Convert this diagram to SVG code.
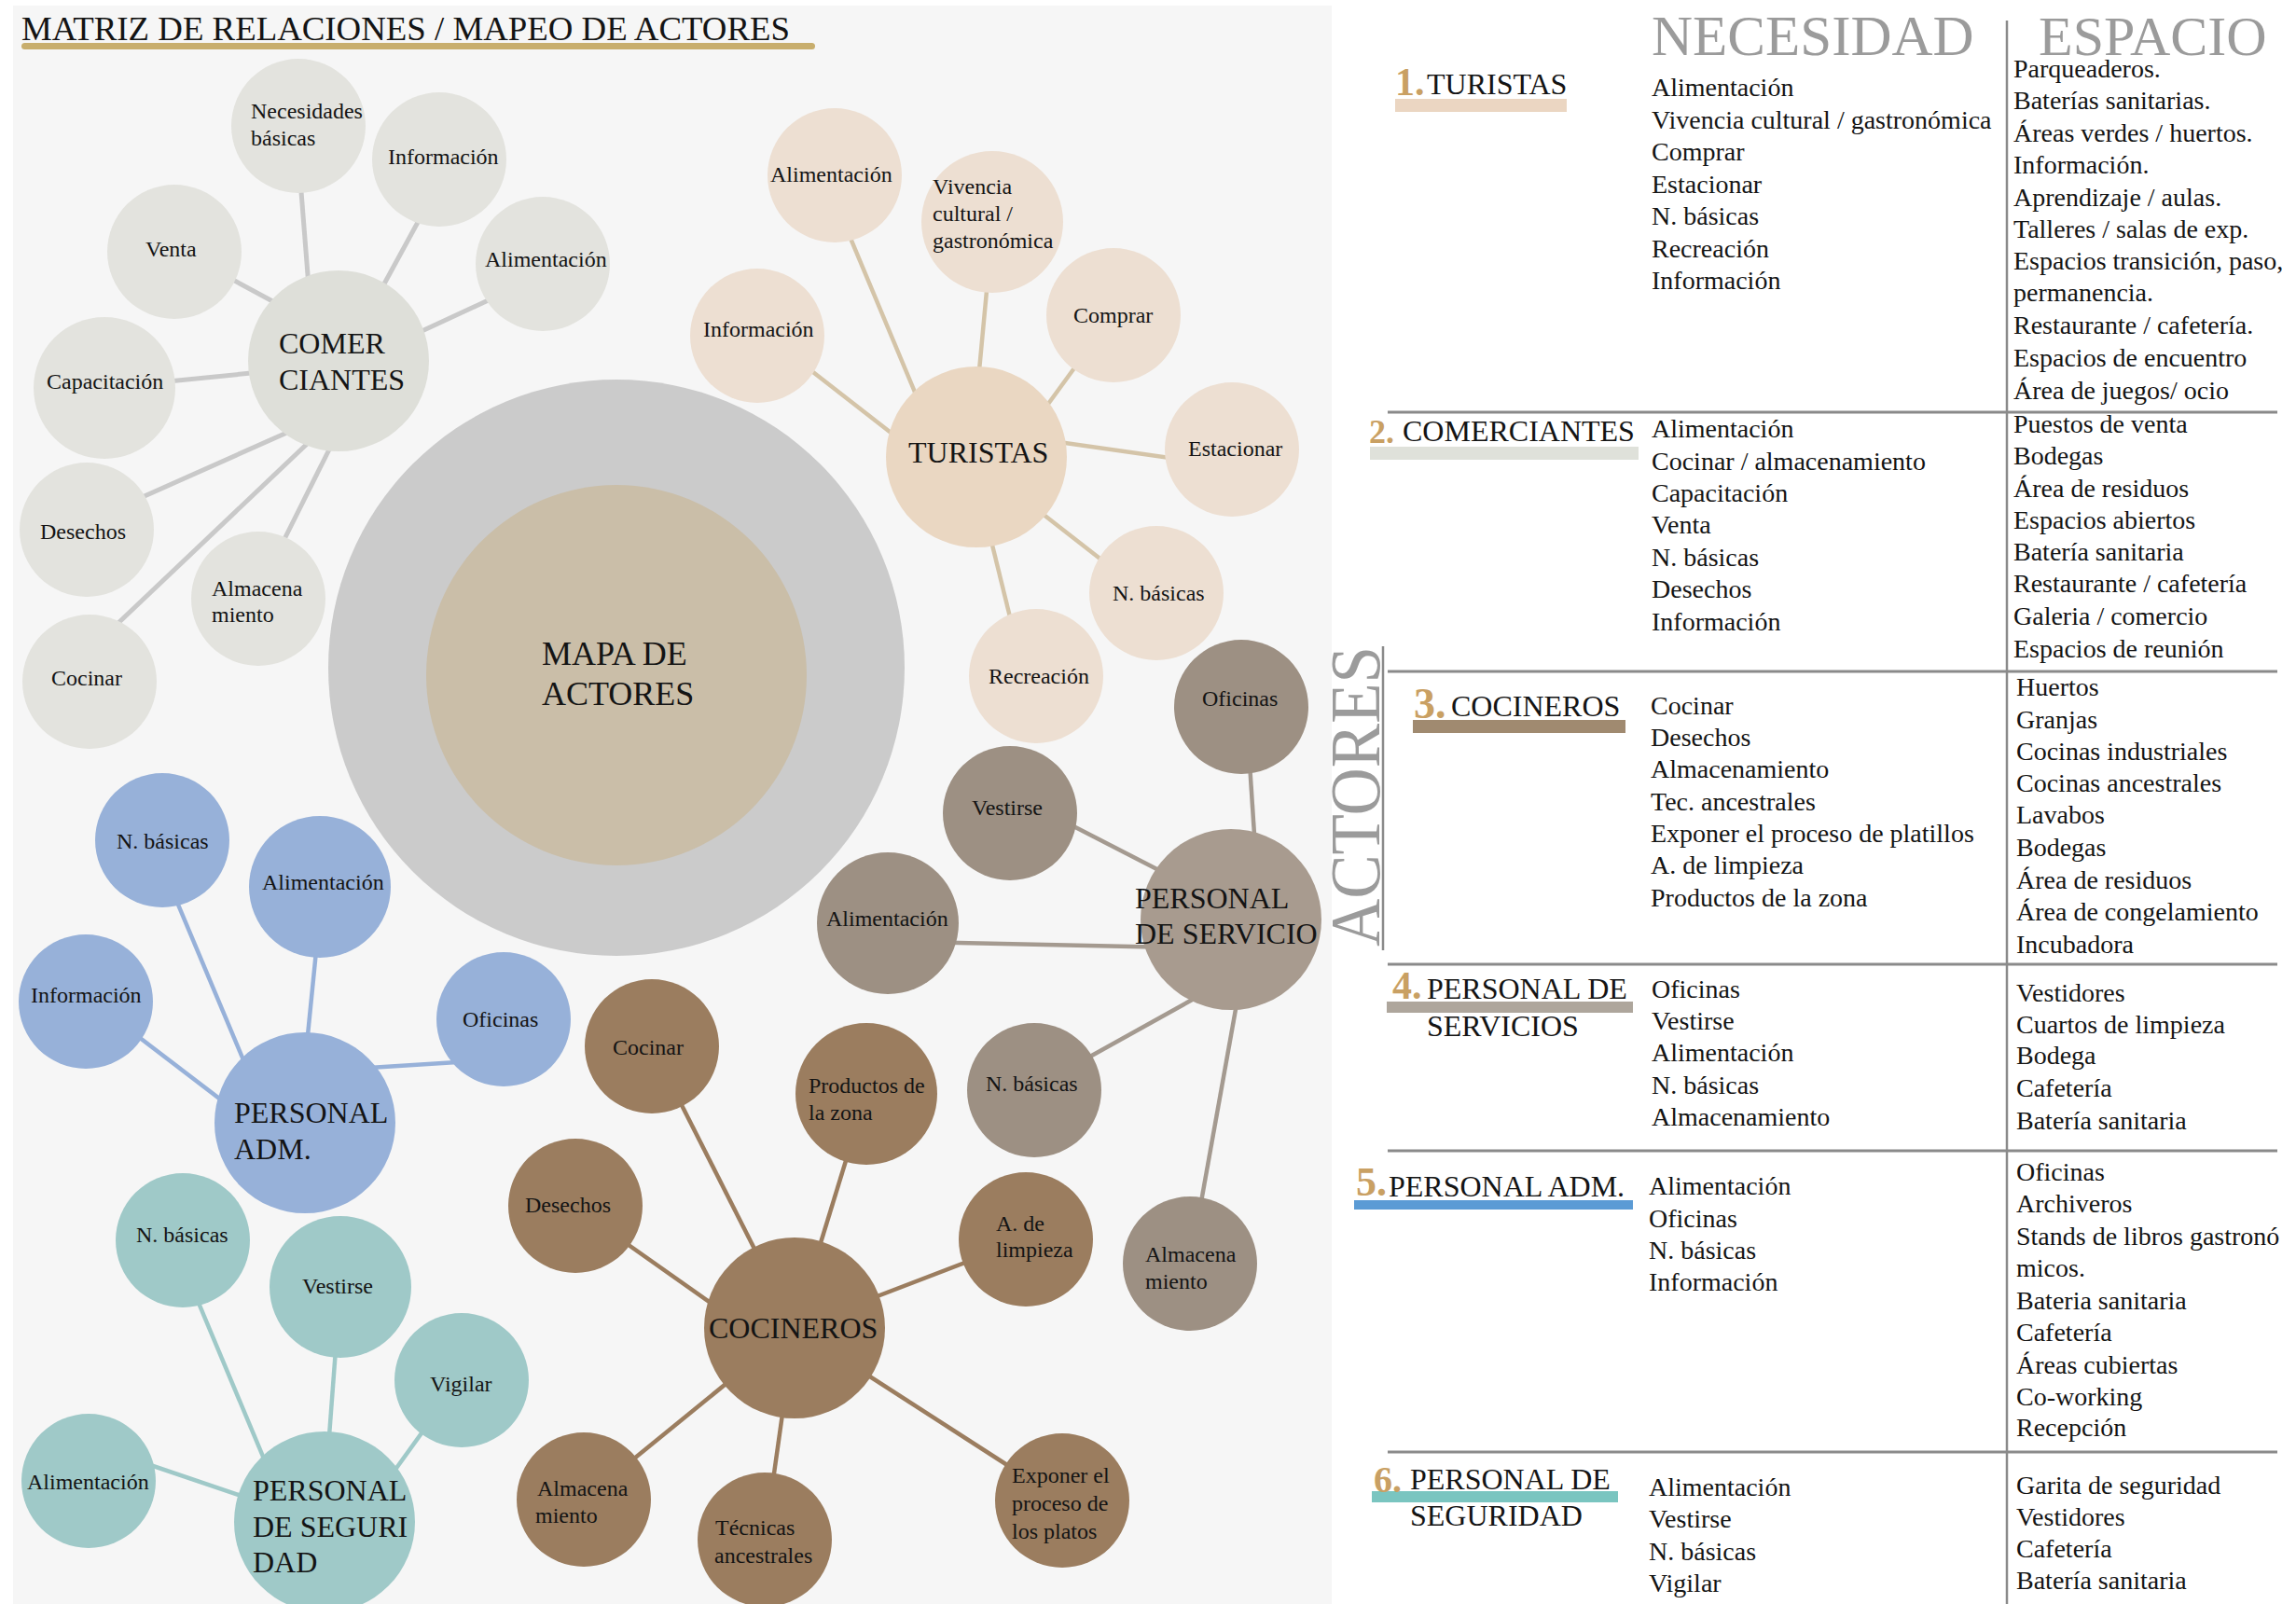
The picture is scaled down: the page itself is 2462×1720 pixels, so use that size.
<svg xmlns="http://www.w3.org/2000/svg" width="2462" height="1720" viewBox="0 0 2462 1720">
<style>
text{font-family:"Liberation Serif","Times New Roman",serif;fill:#141414}
.s24{font-size:24px}.s28{font-size:28px}.s32{font-size:32px}.s36{font-size:36px}
.num{font-weight:bold;fill:#c9a063}
.hd{font-size:60px;fill:#9b9b9b}
.vert{font-size:76px;fill:#9b9b9b}
.c-com{fill:#e3e3de}.c-comm{fill:#dedfd9}
.c-tur{fill:#eddfd2}.c-turm{fill:#ead7c2}
.c-ser{fill:#9d9083}.c-serm{fill:#a89b8f}
.c-coc{fill:#9b7d5f}
.c-adm{fill:#97b1d9}
.c-seg{fill:#9fc9c8}
.l-com{stroke:#c9c9c9;stroke-width:5}
.l-tur{stroke:#d4c4a8;stroke-width:4.5}
.l-ser{stroke:#a49a90;stroke-width:4.5}
.l-coc{stroke:#9b7d5f;stroke-width:4.5}
.l-adm{stroke:#97b1d9;stroke-width:4.5}
.l-seg{stroke:#9fc9c8;stroke-width:4.5}
.tl{stroke:#8a8a8a;stroke-width:3}
</style>
<rect x="0" y="0" width="2462" height="1720" fill="#ffffff"/>
<rect x="14" y="6" width="1414" height="1714" fill="#f6f6f6"/>
<g id="title">
<text x="23" y="43" style="font-size:36px" textLength="824" lengthAdjust="spacingAndGlyphs">MATRIZ DE RELACIONES / MAPEO DE ACTORES</text>
<rect x="23" y="46" width="851" height="7" rx="3.5" fill="#c8ae6d"/>
</g>
<g id="connectors">
<line class="l-com" x1="321" y1="180" x2="332" y2="320"/>
<line class="l-com" x1="458" y1="220" x2="398" y2="330"/>
<line class="l-com" x1="220" y1="284" x2="320" y2="338"/>
<line class="l-com" x1="560" y1="305" x2="420" y2="370"/>
<line class="l-com" x1="150" y1="412" x2="300" y2="397"/>
<line class="l-com" x1="110" y1="552" x2="330" y2="454"/>
<line class="l-com" x1="296" y1="596" x2="358" y2="472"/>
<line class="l-com" x1="110" y1="684" x2="345" y2="461"/>
<line class="l-tur" x1="898" y1="222" x2="1008" y2="485"/>
<line class="l-tur" x1="1061" y1="280" x2="1046" y2="440"/>
<line class="l-tur" x1="1170" y1="370" x2="1100" y2="466"/>
<line class="l-tur" x1="850" y1="382" x2="990" y2="491"/>
<line class="l-tur" x1="1100" y1="469" x2="1290" y2="496"/>
<line class="l-tur" x1="1100" y1="537" x2="1200" y2="615"/>
<line class="l-tur" x1="1058" y1="560" x2="1090" y2="690"/>
<line class="l-ser" x1="1336" y1="758" x2="1351" y2="986"/>
<line class="l-ser" x1="1120" y1="870" x2="1260" y2="942"/>
<line class="l-ser" x1="980" y1="1010" x2="1260" y2="1016"/>
<line class="l-ser" x1="1140" y1="1149" x2="1300" y2="1060"/>
<line class="l-ser" x1="1286" y1="1300" x2="1329" y2="1060"/>
<line class="l-coc" x1="699" y1="1122" x2="852" y2="1424"/>
<line class="l-coc" x1="929" y1="1173" x2="852" y2="1424"/>
<line class="l-coc" x1="640" y1="1311" x2="800" y2="1424"/>
<line class="l-coc" x1="1100" y1="1329" x2="852" y2="1424"/>
<line class="l-coc" x1="626" y1="1608" x2="852" y2="1424"/>
<line class="l-coc" x1="820" y1="1651" x2="852" y2="1424"/>
<line class="l-coc" x1="1139" y1="1609" x2="852" y2="1424"/>
<line class="l-adm" x1="170" y1="920" x2="275" y2="1170"/>
<line class="l-adm" x1="342" y1="990" x2="326" y2="1150"/>
<line class="l-adm" x1="120" y1="1090" x2="260" y2="1197"/>
<line class="l-adm" x1="520" y1="1137" x2="380" y2="1146"/>
<line class="l-seg" x1="189" y1="1340" x2="298" y2="1600"/>
<line class="l-seg" x1="362" y1="1420" x2="350" y2="1580"/>
<line class="l-seg" x1="480" y1="1498" x2="400" y2="1609"/>
<line class="l-seg" x1="120" y1="1557" x2="300" y2="1618"/>
</g>
<g id="mapa-de-actores">
<circle cx="661" cy="716" r="309" fill="#cbcbcb"/>
<circle cx="661" cy="724" r="204" fill="#cabea8"/>
<text class="s36" x="581" y="713">MAPA DE</text>
<text class="s36" x="581" y="756">ACTORES</text>
</g>
<g id="comerciantes">
<circle class="c-comm" cx="363" cy="387" r="97"/>
<text class="s32" x="299" y="379">COMER</text>
<text class="s32" x="299" y="418">CIANTES</text>
</g>
<g id="com-necesidades"><circle class="c-com" cx="320" cy="135" r="72"/><text class="s24" x="269" y="127">Necesidades</text><text class="s24" x="269" y="156">básicas</text></g>
<g id="com-informacion"><circle class="c-com" cx="471" cy="171" r="72"/><text class="s24" x="416" y="176">Información</text></g>
<g id="com-venta"><circle class="c-com" cx="187" cy="270" r="72"/><text class="s24" x="156" y="275">Venta</text></g>
<g id="com-alimentacion"><circle class="c-com" cx="582" cy="283" r="72"/><text class="s24" x="520" y="286">Alimentación</text></g>
<g id="com-capacitacion"><circle class="c-com" cx="112" cy="416" r="76"/><text class="s24" x="50" y="417">Capacitación</text></g>
<g id="com-desechos"><circle class="c-com" cx="93" cy="568" r="72"/><text class="s24" x="43" y="578">Desechos</text></g>
<g id="com-almacenamiento"><circle class="c-com" cx="277" cy="642" r="72"/><text class="s24" x="227" y="639">Almacena</text><text class="s24" x="227" y="667">miento</text></g>
<g id="com-cocinar"><circle class="c-com" cx="96" cy="731" r="72"/><text class="s24" x="55" y="735">Cocinar</text></g>
<g id="turistas">
<circle class="c-turm" cx="1047" cy="490" r="97"/>
<text class="s32" x="974" y="496">TURISTAS</text>
</g>
<g id="tur-alimentacion"><circle class="c-tur" cx="895" cy="188" r="72"/><text class="s24" x="826" y="195">Alimentación</text></g>
<g id="tur-vivencia"><circle class="c-tur" cx="1064" cy="238" r="76"/><text class="s24" x="1000" y="208">Vivencia</text><text class="s24" x="1000" y="237">cultural /</text><text class="s24" x="1000" y="266">gastronómica</text></g>
<g id="tur-comprar"><circle class="c-tur" cx="1194" cy="338" r="72"/><text class="s24" x="1151" y="346">Comprar</text></g>
<g id="tur-informacion"><circle class="c-tur" cx="812" cy="360" r="72"/><text class="s24" x="754" y="361">Información</text></g>
<g id="tur-estacionar"><circle class="c-tur" cx="1321" cy="482" r="72"/><text class="s24" x="1274" y="489">Estacionar</text></g>
<g id="tur-nbasicas"><circle class="c-tur" cx="1240" cy="636" r="72"/><text class="s24" x="1193" y="644">N. básicas</text></g>
<g id="tur-recreacion"><circle class="c-tur" cx="1111" cy="725" r="72"/><text class="s24" x="1060" y="733">Recreación</text></g>
<g id="personal-servicio">
<circle class="c-serm" cx="1320" cy="986" r="97"/>
<text class="s32" x="1217" y="974">PERSONAL</text>
<text class="s32" x="1217" y="1012">DE SERVICIO</text>
</g>
<g id="ser-oficinas"><circle class="c-ser" cx="1331" cy="758" r="72"/><text class="s24" x="1289" y="757">Oficinas</text></g>
<g id="ser-vestirse"><circle class="c-ser" cx="1083" cy="872" r="72"/><text class="s24" x="1042" y="874">Vestirse</text></g>
<g id="ser-alimentacion"><circle class="c-ser" cx="952" cy="990" r="76"/><text class="s24" x="886" y="993">Alimentación</text></g>
<g id="ser-nbasicas"><circle class="c-ser" cx="1109" cy="1169" r="72"/><text class="s24" x="1057" y="1170">N. básicas</text></g>
<g id="ser-almacenamiento"><circle class="c-ser" cx="1276" cy="1355" r="72"/><text class="s24" x="1228" y="1353">Almacena</text><text class="s24" x="1228" y="1382">miento</text></g>
<g id="cocineros">
<circle class="c-coc" cx="852" cy="1424" r="97"/>
<text class="s32" x="760" y="1435">COCINEROS</text>
</g>
<g id="coc-cocinar"><circle class="c-coc" cx="699" cy="1122" r="72"/><text class="s24" x="657" y="1131">Cocinar</text></g>
<g id="coc-productos"><circle class="c-coc" cx="929" cy="1173" r="76"/><text class="s24" x="867" y="1172">Productos de</text><text class="s24" x="867" y="1201">la zona</text></g>
<g id="coc-desechos"><circle class="c-coc" cx="617" cy="1293" r="72"/><text class="s24" x="563" y="1300">Desechos</text></g>
<g id="coc-limpieza"><circle class="c-coc" cx="1100" cy="1329" r="72"/><text class="s24" x="1068" y="1320">A. de</text><text class="s24" x="1068" y="1348">limpieza</text></g>
<g id="coc-almacenamiento"><circle class="c-coc" cx="626" cy="1608" r="72"/><text class="s24" x="576" y="1604">Almacena</text><text class="s24" x="574" y="1633">miento</text></g>
<g id="coc-tecnicas"><circle class="c-coc" cx="820" cy="1651" r="72"/><text class="s24" x="767" y="1646">Técnicas</text><text class="s24" x="766" y="1676">ancestrales</text></g>
<g id="coc-exponer"><circle class="c-coc" cx="1139" cy="1609" r="72"/><text class="s24" x="1085" y="1590">Exponer el</text><text class="s24" x="1085" y="1620">proceso de</text><text class="s24" x="1085" y="1650">los platos</text></g>
<g id="personal-adm">
<circle class="c-adm" cx="327" cy="1204" r="97"/>
<text class="s32" x="251" y="1204">PERSONAL</text>
<text class="s32" x="251" y="1243">ADM.</text>
</g>
<g id="adm-nbasicas"><circle class="c-adm" cx="174" cy="901" r="72"/><text class="s24" x="125" y="910">N. básicas</text></g>
<g id="adm-alimentacion"><circle class="c-adm" cx="343" cy="951" r="76"/><text class="s24" x="281" y="954">Alimentación</text></g>
<g id="adm-informacion"><circle class="c-adm" cx="92" cy="1074" r="72"/><text class="s24" x="33" y="1075">Información</text></g>
<g id="adm-oficinas"><circle class="c-adm" cx="540" cy="1093" r="72"/><text class="s24" x="496" y="1101">Oficinas</text></g>
<g id="personal-seguridad">
<circle class="c-seg" cx="348" cy="1632" r="97"/>
<text class="s32" x="271" y="1609">PERSONAL</text>
<text class="s32" x="271" y="1648">DE SEGURI</text>
<text class="s32" x="271" y="1686">DAD</text>
</g>
<g id="seg-nbasicas"><circle class="c-seg" cx="196" cy="1330" r="72"/><text class="s24" x="146" y="1332">N. básicas</text></g>
<g id="seg-vestirse"><circle class="c-seg" cx="365" cy="1380" r="76"/><text class="s24" x="324" y="1387">Vestirse</text></g>
<g id="seg-vigilar"><circle class="c-seg" cx="495" cy="1480" r="72"/><text class="s24" x="461" y="1492">Vigilar</text></g>
<g id="seg-alimentacion"><circle class="c-seg" cx="95" cy="1588" r="72"/><text class="s24" x="29" y="1597">Alimentación</text></g>
<g id="table">
<text class="hd" x="1771" y="59" style="font-size:61px">NECESIDAD</text>
<text class="hd" x="2186" y="59">ESPACIO</text>
<line class="tl" x1="2152" y1="22" x2="2152" y2="1720" style="stroke-width:2.5"/>
<line class="tl" x1="1488" y1="442" x2="2442" y2="442"/>
<line class="tl" x1="1488" y1="720" x2="2442" y2="720"/>
<line class="tl" x1="1488" y1="1034" x2="2442" y2="1034"/>
<line class="tl" x1="1488" y1="1234" x2="2442" y2="1234"/>
<line class="tl" x1="1488" y1="1557" x2="2442" y2="1557"/>
<line class="tl" x1="1483" y1="693" x2="1483" y2="1019" style="stroke-width:2.5"/>
<text class="vert" transform="translate(1479 1015) rotate(-90)" textLength="322" lengthAdjust="spacingAndGlyphs">ACTORES</text>
<g id="row-turistas">
<rect x="1496" y="106" width="184" height="14" fill="#ebd6c2"/>
<text class="num" x="1496" y="102" style="font-size:42px">1.</text>
<text class="s32" x="1530" y="101">TURISTAS</text>
<text class="s28" x="1771"><tspan x="1771" y="103">Alimentación</tspan><tspan x="1771" y="138">Vivencia cultural / gastronómica</tspan><tspan x="1771" y="172">Comprar</tspan><tspan x="1771" y="207">Estacionar</tspan><tspan x="1771" y="241">N. básicas</tspan><tspan x="1771" y="276">Recreación</tspan><tspan x="1771" y="310">Información</tspan></text>
<text class="s28" x="2159"><tspan x="2159" y="83">Parqueaderos.</tspan><tspan x="2159" y="117">Baterías sanitarias.</tspan><tspan x="2159" y="152">Áreas verdes / huertos.</tspan><tspan x="2159" y="186">Información.</tspan><tspan x="2159" y="221">Aprendizaje / aulas.</tspan><tspan x="2159" y="255">Talleres / salas de exp.</tspan><tspan x="2159" y="289">Espacios transición, paso,</tspan><tspan x="2159" y="323">permanencia.</tspan><tspan x="2159" y="358">Restaurante / cafetería.</tspan><tspan x="2159" y="393">Espacios de encuentro</tspan><tspan x="2159" y="428">Área de juegos/ ocio</tspan></text>
</g>
<g id="row-comerciantes">
<rect x="1469" y="479" width="288" height="14" fill="#dfe1da"/>
<text class="num" x="1468" y="475" style="font-size:36px">2.</text>
<text class="s32" x="1504" y="473">COMERCIANTES</text>
<text class="s28" x="1771"><tspan x="1771" y="469">Alimentación</tspan><tspan x="1771" y="504">Cocinar / almacenamiento</tspan><tspan x="1771" y="538">Capacitación</tspan><tspan x="1771" y="572">Venta</tspan><tspan x="1771" y="607">N. básicas</tspan><tspan x="1771" y="641">Desechos</tspan><tspan x="1771" y="676">Información</tspan></text>
<text class="s28" x="2159"><tspan x="2159" y="464">Puestos de venta</tspan><tspan x="2159" y="498">Bodegas</tspan><tspan x="2159" y="533">Área de residuos</tspan><tspan x="2159" y="567">Espacios abiertos</tspan><tspan x="2159" y="601">Batería sanitaria</tspan><tspan x="2159" y="635">Restaurante / cafetería</tspan><tspan x="2159" y="670">Galeria / comercio</tspan><tspan x="2159" y="705">Espacios de reunión</tspan></text>
</g>
<g id="row-cocineros">
<rect x="1515" y="772" width="228" height="14" fill="#a08a70"/>
<text class="num" x="1516" y="770" style="font-size:46px">3.</text>
<text class="s32" x="1556" y="768">COCINEROS</text>
<text class="s28" x="1770"><tspan x="1770" y="766">Cocinar</tspan><tspan x="1770" y="800">Desechos</tspan><tspan x="1770" y="834">Almacenamiento</tspan><tspan x="1770" y="869">Tec. ancestrales</tspan><tspan x="1770" y="903">Exponer el proceso de platillos</tspan><tspan x="1770" y="937">A. de limpieza</tspan><tspan x="1770" y="972">Productos de la zona</tspan></text>
<text class="s28" x="2162"><tspan x="2162" y="746">Huertos</tspan><tspan x="2162" y="781">Granjas</tspan><tspan x="2162" y="815">Cocinas industriales</tspan><tspan x="2162" y="849">Cocinas ancestrales</tspan><tspan x="2162" y="883">Lavabos</tspan><tspan x="2162" y="918">Bodegas</tspan><tspan x="2162" y="953">Área de residuos</tspan><tspan x="2162" y="987">Área de congelamiento</tspan><tspan x="2162" y="1022">Incubadora</tspan></text>
</g>
<g id="row-servicios">
<rect x="1487" y="1074" width="264" height="12" fill="#aea69c"/>
<text class="num" x="1493" y="1071" style="font-size:42px">4.</text>
<text class="s32" x="1530" y="1071">PERSONAL DE</text>
<text class="s32" x="1530" y="1111">SERVICIOS</text>
<text class="s28" x="1771"><tspan x="1771" y="1070">Oficinas</tspan><tspan x="1771" y="1104">Vestirse</tspan><tspan x="1771" y="1138">Alimentación</tspan><tspan x="1771" y="1173">N. básicas</tspan><tspan x="1771" y="1207">Almacenamiento</tspan></text>
<text class="s28" x="2162"><tspan x="2162" y="1074">Vestidores</tspan><tspan x="2162" y="1108">Cuartos de limpieza</tspan><tspan x="2162" y="1141">Bodega</tspan><tspan x="2162" y="1176">Cafetería</tspan><tspan x="2162" y="1211">Batería sanitaria</tspan></text>
</g>
<g id="row-adm">
<rect x="1452" y="1287" width="299" height="10" fill="#5b9bd5"/>
<text class="num" x="1454" y="1282" style="font-size:44px">5.</text>
<text class="s32" x="1489" y="1283">PERSONAL ADM.</text>
<text class="s28" x="1768"><tspan x="1768" y="1281">Alimentación</tspan><tspan x="1768" y="1316">Oficinas</tspan><tspan x="1768" y="1350">N. básicas</tspan><tspan x="1768" y="1384">Información</tspan></text>
<text class="s28" x="2162"><tspan x="2162" y="1266">Oficinas</tspan><tspan x="2162" y="1300">Archiveros</tspan><tspan x="2162" y="1335">Stands de libros gastronó</tspan><tspan x="2162" y="1369">micos.</tspan><tspan x="2162" y="1404">Bateria sanitaria</tspan><tspan x="2162" y="1438">Cafetería</tspan><tspan x="2162" y="1473">Áreas cubiertas</tspan><tspan x="2162" y="1507">Co-working</tspan><tspan x="2162" y="1540">Recepción</tspan></text>
</g>
<g id="row-seguridad">
<rect x="1471" y="1599" width="264" height="12" fill="#7ac5c0"/>
<text class="num" x="1473" y="1600" style="font-size:40px">6.</text>
<text class="s32" x="1512" y="1597">PERSONAL DE</text>
<text class="s32" x="1512" y="1636">SEGURIDAD</text>
<text class="s28" x="1768"><tspan x="1768" y="1604">Alimentación</tspan><tspan x="1768" y="1638">Vestirse</tspan><tspan x="1768" y="1673">N. básicas</tspan><tspan x="1768" y="1707">Vigilar</tspan></text>
<text class="s28" x="2162"><tspan x="2162" y="1602">Garita de seguridad</tspan><tspan x="2162" y="1636">Vestidores</tspan><tspan x="2162" y="1670">Cafetería</tspan><tspan x="2162" y="1704">Batería sanitaria</tspan></text>
</g>
</g>
</svg>
